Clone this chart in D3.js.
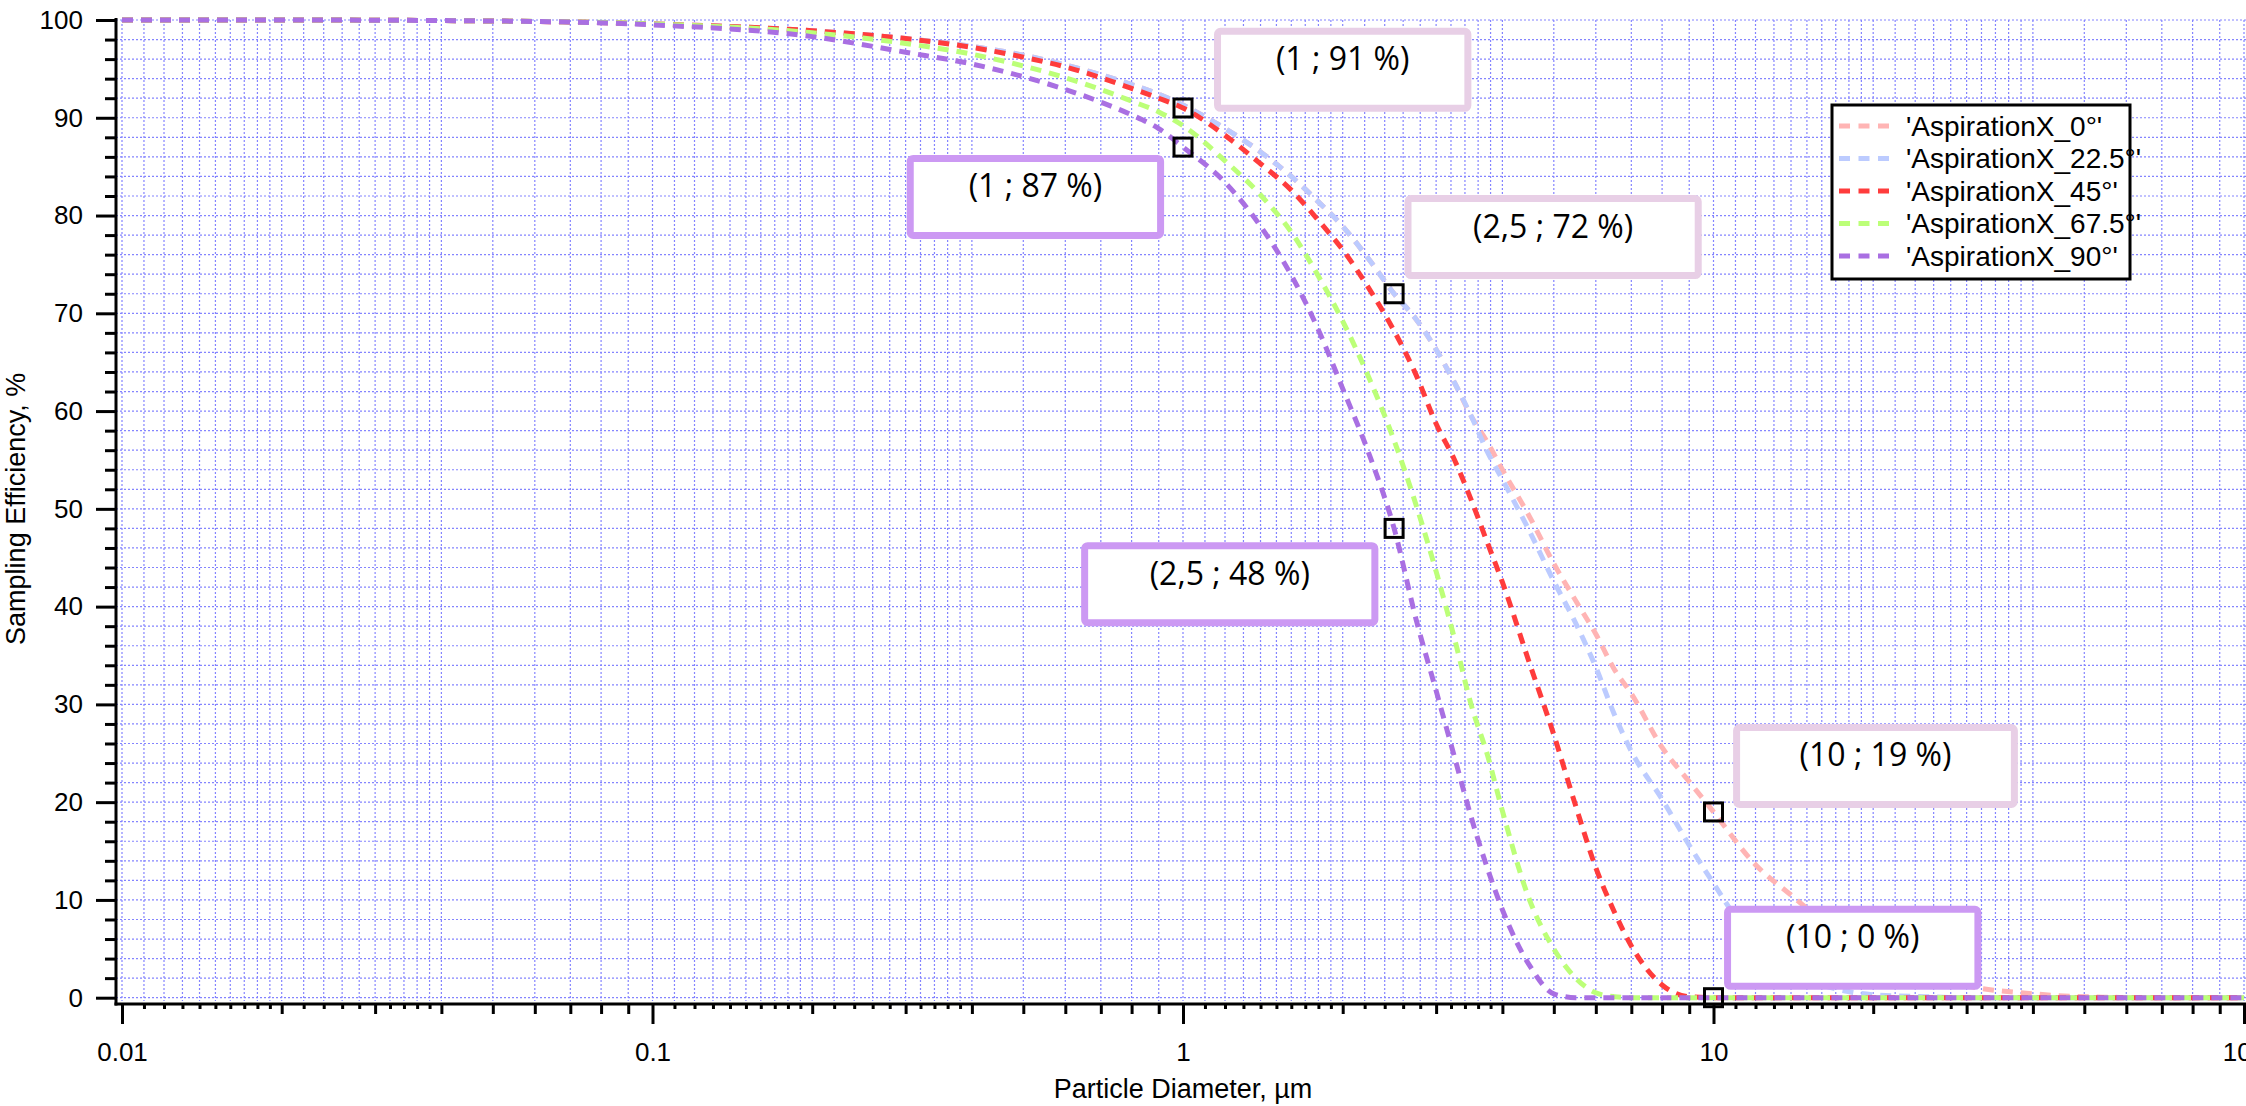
<!DOCTYPE html>
<html><head><meta charset="utf-8">
<script src="https://cdn.jsdelivr.net/npm/d3@7"></script>
<style>html,body{margin:0;padding:0;background:#fff;overflow:hidden}</style>
</head><body>
<svg id="chart" width="2246" height="1106"></svg>
<script>
// ---------- DATA ----------
const diameters = [0.01, 0.02, 0.05, 0.1, 0.2, 0.3, 0.4, 0.5, 0.6, 0.7, 0.8, 0.9, 1, 1.2, 1.4, 1.6, 1.8, 2, 2.25, 2.5, 2.75, 3, 3.25, 3.5, 3.75, 4, 4.5, 5, 5.5, 6, 6.5, 7, 8, 9, 10, 12, 14, 17, 20, 25, 30, 40, 50, 70, 100];
const eff0   = [100,100,99.9,99.6,98.9,98.1,97.3,96.4,95.4,94.4,93.4,92.4,91.3,88.9,86.5,84.0,81.4,78.9,75.4,72.0,69.4,66.3,62.9,59.4,56.8,54.0,49.2,44.4,40.6,37.2,33.6,31.1,25.6,22.1,19.0,13.6,10.5,6.8,4.4,2.3,1.2,0.4,0.1,0,0];
const eff225 = [100,100,99.9,99.6,98.9,98.1,97.3,96.4,95.4,94.4,93.4,92.4,91.3,88.9,86.5,84.0,81.4,78.9,75.4,72.0,69.4,66.3,62.9,59.4,55.8,53.0,47.7,42.6,38.3,33.8,29.0,25.2,20.3,15.6,11.7,5.5,2.6,0.9,0.3,0.1,0,0,0,0,0];
const eff45  = [100,100,99.9,99.6,98.9,98.1,97.2,96.2,95.2,94.1,93.0,92.0,91.0,88.2,85.3,82.6,79.5,76.5,72.4,68.2,63.7,58.7,55.0,50.8,46.5,42.5,34.2,26.9,19.6,13.3,8.8,5.3,1.3,0.1,0,0,0,0,0,0,0,0,0,0,0];
const eff675 = [100,100,99.9,99.6,98.7,97.6,96.5,95.3,94.1,92.9,91.7,90.6,89.2,85.6,82.1,78.3,73.8,69.2,63.2,57.0,50.4,43.6,36.7,29.8,24.8,19.1,10.0,5.0,2.0,0.5,0.1,0,0,0,0,0,0,0,0,0,0,0,0,0,0];
const eff90  = [100,100,99.9,99.5,98.3,96.7,95.5,94.2,92.9,91.6,90.3,88.9,87.0,83.4,78.9,73.9,68.3,62.3,55.4,48.0,38.7,31.4,24.6,18.3,13.2,9.0,3.3,0.4,0,0,0,0,0,0,0,0,0,0,0,0,0,0,0,0,0];
const seriesNames = ["'AspirationX_0°'", "'AspirationX_22.5°'", "'AspirationX_45°'", "'AspirationX_67.5°'", "'AspirationX_90°'"];
const seriesColors = ["#ffb4b4", "#bccbff", "#ff3c3c", "#bcff78", "#a96fe2"];
const xTickLabels = ["0.01", "0.1", "1", "10", "100"];
const yTickLabels = ["0","10","20","30","40","50","60","70","80","90","100"];
const markerD = [1, 1, 2.5, 2.5, 10, 10];
const markerV = [91, 87, 72, 48, 19, 0];
const labelTexts = ["(1 ; 91 %)", "(1 ; 87 %)", "(2,5 ; 72 %)", "(2,5 ; 48 %)", "(10 ; 19 %)", "(10 ; 0 %)"];
const labelD = [2.0, 0.527, 4.985, 1.225, 20.2, 18.3];   // box centre, data units
const labelV = [94.9, 81.9, 77.8, 42.3, 23.7, 5.1];
const labelKind = [0, 1, 0, 1, 0, 1]; // 0 = pink frame, 1 = violet frame

// ---------- CHART ----------
const W = 2246, H = 1106;
const svg = d3.select("#chart");
const x = d3.scaleLog().domain([0.01, 100]).range([122, 2244]);
const y = d3.scaleLinear().domain([0, 100]).range([997.7, 20]);
const axisY = 1004, axisX = 116;
const font = "'Liberation Sans', Arial, sans-serif";

const xMantissas = [1,1.1,1.2,1.3,1.4,1.5,1.6,1.7,1.8,1.9,2,2.2,2.4,2.6,2.8,3,3.2,3.4,3.6,3.8,4,5,6,7,8,9];
const xMajor = [], xMinor = [], xSub = [];
for (let k = -2; k <= 1; k++) {
  for (const m of xMantissas) {
    const v = +(m * Math.pow(10, k)).toPrecision(6);
    if (m === 1) xMajor.push(v); else if (Number.isInteger(m)) xMinor.push(v); else xSub.push(v);
  }
}
xMajor.push(100);
const xAll = [...xMajor, ...xMinor, ...xSub];
const yAll = d3.range(0, 101, 2);
const yMajor = yAll.filter(v => v % 10 === 0);
const yMinor = yAll.filter(v => v % 10 !== 0);

// grid
const grid = svg.append("g").attr("stroke", "#5c5cff").attr("stroke-width", 1.2)
  .attr("stroke-dasharray", "2,2").attr("opacity", 0.75);
grid.selectAll("line.vg").data(xAll).join("line").attr("class", "vg")
  .attr("x1", d => x(d)).attr("x2", d => x(d)).attr("y1", y(100)).attr("y2", 1001);
grid.selectAll("line.hg").data(yAll).join("line").attr("class", "hg")
  .attr("x1", axisX).attr("x2", W).attr("y1", d => y(d)).attr("y2", d => y(d));

// curves
const seriesValues = [eff0, eff225, eff45, eff675, eff90];
const line = d3.line().x((d, i) => x(diameters[i])).y(d => y(d)).curve(d3.curveMonotoneX);
svg.append("g").selectAll("path").data(seriesValues).join("path")
  .attr("d", d => line(d)).attr("fill", "none")
  .attr("stroke", (d, i) => seriesColors[i]).attr("stroke-width", 5)
  .attr("stroke-dasharray", "11,8");

// annotation boxes
const frameColors = ["#e8cfe6", "#cc99f3"];
const ann = svg.append("g");
labelTexts.forEach((t, i) => {
  const g = ann.append("g");
  const cx = x(labelD[i]), cy = y(labelV[i]);
  const rect = g.append("rect");
  const txt = g.append("text").text(t).attr("x", cx).attr("y", cy - 12)
    .attr("text-anchor", "middle").attr("dominant-baseline", "central")
    .attr("font-family", "'Open Sans', 'DejaVu Sans', sans-serif").attr("font-size", 32).attr("fill", "#000");
  const tw = txt.node().getComputedTextLength();
  const bw = tw * 1.5 + 57, bh = 84;
  rect.attr("x", cx - bw / 2 + 3.5).attr("y", cy - bh / 2 + 3.5)
    .attr("width", bw - 7).attr("height", bh - 7).attr("rx", 3)
    .attr("fill", "#fff").attr("stroke", frameColors[labelKind[i]]).attr("stroke-width", 7);
});

// markers
svg.append("g").selectAll("rect").data(markerD).join("rect")
  .attr("x", (d, i) => x(d) - 9).attr("y", (d, i) => y(markerV[i]) - 9)
  .attr("width", 18).attr("height", 18).attr("fill", "none")
  .attr("stroke", "#000").attr("stroke-width", 3);

// legend
const lg = svg.append("g");
lg.append("rect").attr("x", 1832).attr("y", 105).attr("width", 298).attr("height", 174)
  .attr("fill", "#fff").attr("stroke", "#000").attr("stroke-width", 3);
seriesNames.forEach((n, i) => {
  const ly = 126 + i * 32.5;
  lg.append("line").attr("x1", 1839).attr("x2", 1889).attr("y1", ly).attr("y2", ly)
    .attr("stroke", seriesColors[i]).attr("stroke-width", 5).attr("stroke-dasharray", "11,8.5");
  lg.append("text").attr("x", 1906).attr("y", ly).attr("dominant-baseline", "central")
    .attr("font-family", font).attr("font-size", 28).attr("fill", "#000").text(n);
});

// axes
const gx = svg.append("g").attr("transform", `translate(0,${axisY})`);
gx.append("g").call(d3.axisBottom(x).tickValues(xSub).tickSize(5).tickFormat(""));
gx.append("g").call(d3.axisBottom(x).tickValues(xMinor).tickSize(10).tickFormat(""));
gx.append("g").call(d3.axisBottom(x).tickValues(xMajor).tickSize(20).tickPadding(19)
  .tickFormat((d, i) => xTickLabels[i]));
const gy = svg.append("g").attr("transform", `translate(${axisX},0)`);
gy.append("g").call(d3.axisLeft(y).tickValues(yMinor).tickSize(11).tickFormat(""));
gy.append("g").call(d3.axisLeft(y).tickValues(yMajor).tickSize(20).tickPadding(13)
  .tickFormat((d, i) => yTickLabels[i]));
svg.selectAll(".domain").remove();
svg.selectAll(".tick line").attr("stroke", "#000").attr("stroke-width", 3);
svg.selectAll(".tick text").attr("font-family", font).attr("font-size", 26).attr("fill", "#000");
svg.append("line").attr("x1", axisX).attr("x2", axisX).attr("y1", 18).attr("y2", axisY + 1.5)
  .attr("stroke", "#000").attr("stroke-width", 3);
svg.append("line").attr("x1", axisX - 1.5).attr("x2", W).attr("y1", axisY).attr("y2", axisY)
  .attr("stroke", "#000").attr("stroke-width", 3);

// axis titles
svg.append("text").attr("x", x(1)).attr("y", 1098).attr("text-anchor", "middle")
  .attr("font-family", font).attr("font-size", 27).attr("fill", "#000").text("Particle Diameter, µm");
svg.append("text").attr("transform", `translate(16,${y(50)}) rotate(-90)`)
  .attr("text-anchor", "middle").attr("dominant-baseline", "central")
  .attr("font-family", font).attr("font-size", 27).attr("fill", "#000").text("Sampling Efficiency, %");
</script>
</body></html>
